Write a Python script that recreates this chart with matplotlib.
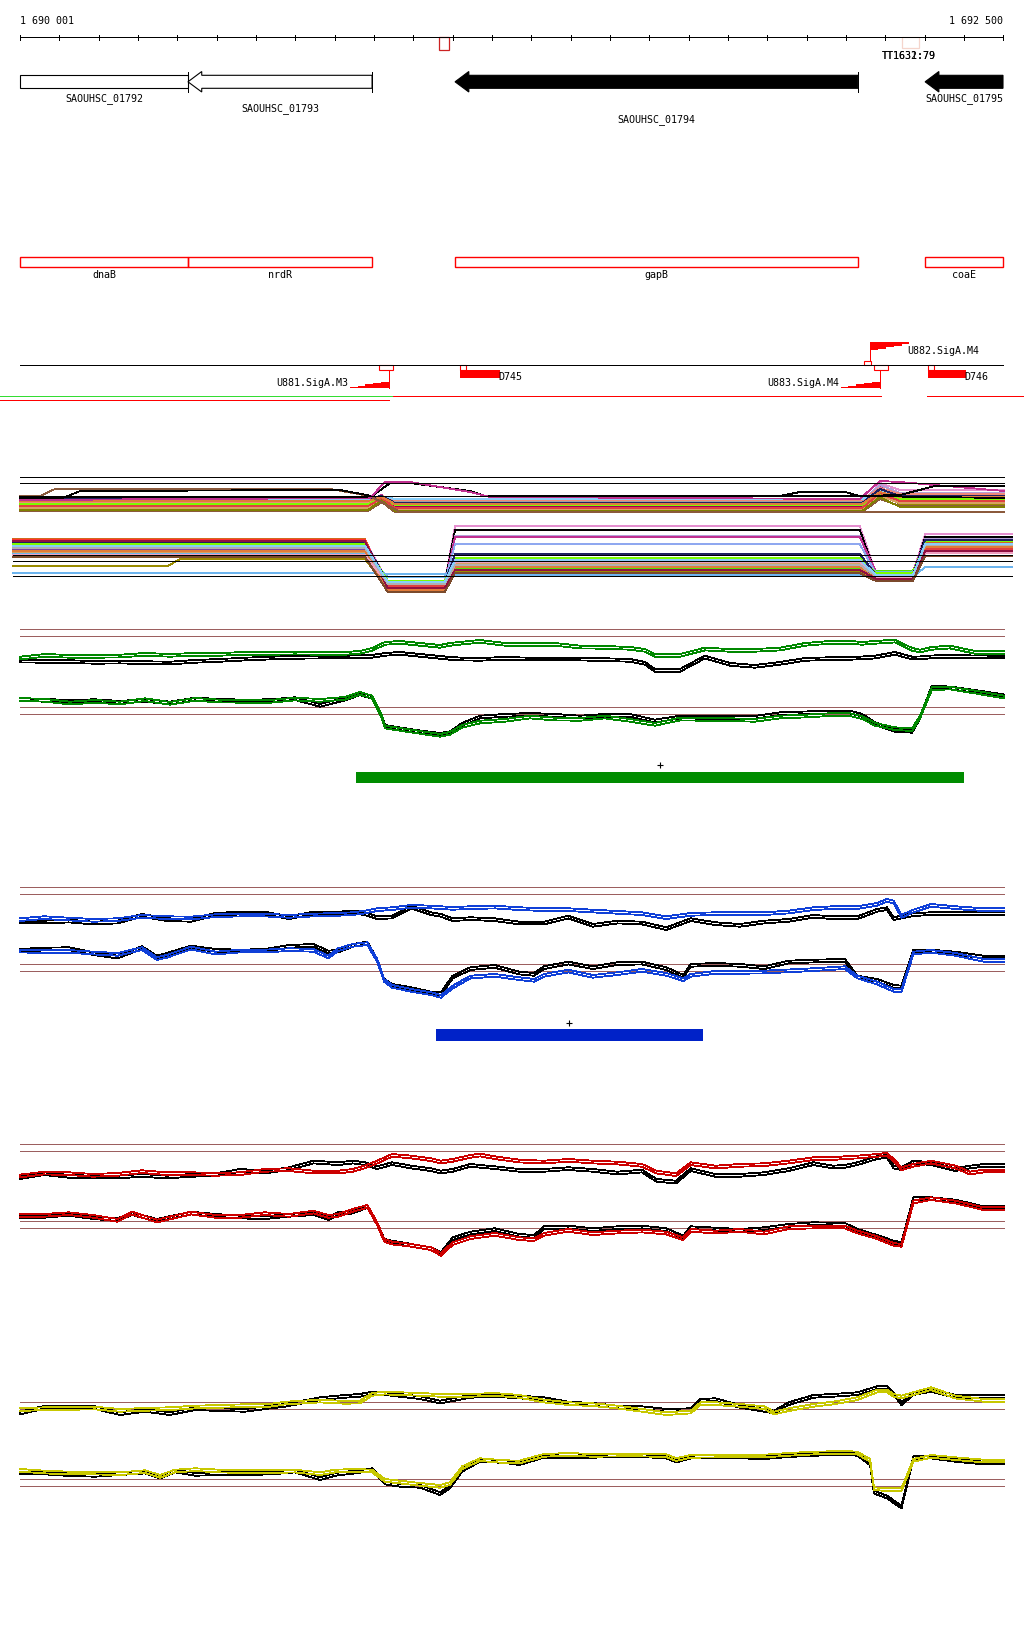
import numpy as np
import matplotlib.pyplot as plt
from matplotlib.patches import Polygon, Rectangle

plt.rcParams['lines.antialiased'] = False

W, H = 1024, 1640
VIEW_START, VIEW_END = 1690001, 1692500
BP_PER_PX = (VIEW_END - VIEW_START) / 983
XLIM = (VIEW_START - 20 * BP_PER_PX, VIEW_START + 1004 * BP_PER_PX)

RED = '#ff0000'
BROWN = '#9c5f5f'
LW = 0.6
REP_SHIFT = 2.7
font = dict(family='DejaVu Sans Mono', fontsize=7.2)

# === genes
gene_names = ['SAOUHSC_01792', 'SAOUHSC_01793', 'SAOUHSC_01794', 'SAOUHSC_01795']
gene_start = [1689700, 1690428, 1691107, 1692302]
gene_end = [1690428, 1690896, 1692131, 1692800]
gene_fill = ['white', 'white', 'black', 'black']
gene_label_row = [0, 1, 2, 0]
common_names = ['dnaB', 'nrdR', 'gapB', 'coaE']

# marks on the ruler
ruler_mark_start = [1691066, 1692243]
ruler_mark_end = [1691092, 1692286]
ruler_mark_color = ['#cc2222', '#f5d5cc']
tt_labels = ['TT1631:79', 'TT1632:79']
tt_label_pos = 1692192

# promoters
prom_names = ['U881.SigA.M3', 'U882.SigA.M4', 'U883.SigA.M4']
prom_pos = [1690939, 1692162, 1692187]
prom_strand = ['-', '+', '-']
prom_box = [(1690914, 1690949), (1692146, 1692164), (1692172, 1692208)]
FLAG = 100

# terminators
term_names = ['D745', 'D746']
term_start = [1691120, 1692309]
term_end = [1691221, 1692406]

# transcription units
tu_green = [(XLIM[0], 1690949)]
tu_red_low = [(XLIM[0], 1690939)]
tu_red = [(1690949, 1692190), (1692307, XLIM[1])]

# === multi-condition track
up_knots = [1690001, 1690886, 1690921, 1690954, 1692142, 1692187, 1692238, 1692503]
up_colors = ['#d2691e', '#9a8b00', '#6cb4ee', '#c03090', '#e58fcf', '#b4a0d8', '#55e000',
             '#ff3030', '#f08020', '#a00050', '#a0a0a0', '#d8a060', '#f08878', '#87cefa',
             '#8b5a3c', '#808000', '#202060', '#7cfc00', '#e04040', '#e07b39']
up_levels = [(60, 58, 63, 52, 56), (70, 59, 69, 55, 65), (59, 57, 60, 50, 57), (63, 56, 66, 48, 59),
             (65, 57, 65, 44, 51), (62, 58, 62, 46, 54), (66, 59, 64, 54, 61), (64, 57, 68, 53, 63),
             (68, 60, 70, 56, 60), (61, 58, 67, 51, 58), (67, 58, 63, 53, 62), (69, 60, 71, 57, 64),
             (63, 57, 61, 49, 55), (60, 58, 60, 52, 59), (72, 63, 73, 60, 67), (71, 61, 72, 58, 68),
             (59, 57, 64, 50, 57), (65, 58, 66, 55, 60), (67, 59, 69, 54, 62), (62, 58, 65, 53, 58)]
extra_x = [[1690001, 1690052, 1690090, 1690789, 1690891, 1690929, 1690967, 1692503],
           [1690001, 1690103, 1690154, 1690814, 1690896, 1690942, 1690992, 1691145, 1691183,
            1691933, 1691984, 1692098, 1692136, 1692503],
           [1690001, 1690891, 1690929, 1690992, 1691145, 1691196, 1692136, 1692187, 1692238, 1692503],
           [1690001, 1692136, 1692238, 1692327, 1692503]]
extra_y = [[57, 57, 50, 50, 57, 65, 73, 73],
           [60, 60, 52, 51, 57, 44, 44, 52, 57, 57, 53, 53, 57, 59],
           [61, 59, 43, 43, 53, 58, 60, 42, 43, 52],
           [58, 57, 56, 47, 47]]
extra_colors = ['#8b5a3c', 'black', '#c03090', 'black']

lo_knots = [1689983, 1690377, 1690408, 1690878, 1690936, 1691081, 1691107, 1692136,
            1692177, 1692271, 1692302, 1692523]
lo_colors = ['#e58fcf', 'black', '#b4a0d8', '#c03090', '#8fa8f0', '#d2691e', '#ff3030',
             '#9a8b00', '#55e000', '#6cb4ee', '#f08020', '#a00050', '#a0a0a0', '#d8a060',
             '#f08878', '#8040a0', '#8b5a3c', '#9a8b00', '#6cb4ee', '#7cfc00', '#e04040',
             '#e07b39', '#202060', '#f0a0c0', '#901040', '#7b4a2c', '#b0b0b0', '#87cefa']
lo_levels = [(102, 102, 142, 87, 134, 95), (103, 103, 144, 91, 136, 98), (105, 105, 146, 97, 138, 100),
             (104, 104, 145, 98, 133, 101), (108, 108, 143, 105, 135, 103), (100, 100, 150, 125, 137, 104),
             (101, 101, 148, 127, 140, 106), (107, 107, 147, 130, 139, 108), (112, 112, 144, 129, 132, 109),
             (115, 115, 138, 120, 133, 108), (109, 109, 149, 132, 141, 107), (106, 106, 146, 124, 138, 108),
             (110, 110, 145, 122, 136, 110), (113, 113, 146, 124, 137, 111), (104, 104, 143, 128, 135, 105),
             (111, 111, 148, 126, 139, 112), (117, 117, 152, 131, 140, 113), (127, 120, 150, 133, 136, 109),
             (134, 134, 135, 136, 138, 128), (105, 105, 142, 119, 134, 102), (108, 108, 147, 121, 139, 110),
             (112, 112, 151, 128, 142, 108), (103, 103, 144, 115, 136, 101), (116, 116, 145, 123, 138, 114),
             (102, 102, 149, 131, 140, 112), (118, 118, 153, 134, 142, 117), (109, 109, 145, 126, 137, 106),
             (107, 107, 143, 121, 136, 105)]

# === green track
g_up_x = [1690001, 1690065, 1690128, 1690192, 1690255, 1690319, 1690382, 1690446, 1690509, 1690573,
          1690637, 1690700, 1690764, 1690827, 1690865, 1690896, 1690929, 1690967, 1691018, 1691069,
          1691094, 1691125, 1691170, 1691234, 1691297, 1691361, 1691425, 1691488, 1691552, 1691590,
          1691615, 1691679, 1691742, 1691806, 1691869, 1691933, 1691997, 1692060, 1692111, 1692142,
          1692175, 1692225, 1692269, 1692289, 1692319, 1692365, 1692429, 1692503]
g_up_col = [37.7, 35, 36, 36, 35.7, 34, 35, 34, 34, 33, 33, 32.7, 33, 33, 32, 29, 23, 22, 24, 26,
            24, 22.7, 21, 24, 24, 24, 26.7, 27, 28, 30, 35, 35, 28.7, 30, 30, 28.7, 24, 22, 22, 23,
            22, 20.7, 29, 30.7, 28, 26.7, 32, 32]
g_up_blk = [40.7, 41, 41.3, 42, 41.7, 42.3, 42.7, 41, 40, 38.7, 37.7, 37, 36.7, 36.7, 36.3, 36, 34, 33,
            35, 37, 38, 38.7, 39, 38, 38.7, 38.7, 38.7, 39.3, 40, 43, 50, 50, 36.7, 44, 46, 43, 39,
            38.3, 38, 37.5, 36.7, 33, 37.7, 37.5, 36.5, 36, 36.5, 36.7]
g_lo_x = [1690001, 1690065, 1690128, 1690192, 1690255, 1690319, 1690382, 1690446, 1690509, 1690573,
          1690637, 1690700, 1690764, 1690827, 1690865, 1690896, 1690921, 1690929, 1690967, 1691018,
          1691069, 1691094, 1691125, 1691170, 1691234, 1691297, 1691361, 1691425, 1691488, 1691552,
          1691615, 1691679, 1691742, 1691806, 1691869, 1691933, 1691997, 1692060, 1692111, 1692142,
          1692175, 1692225, 1692269, 1692289, 1692319, 1692365, 1692429, 1692503]
g_lo_col = [79, 80, 82.7, 81, 82.7, 79.3, 83, 79, 80.7, 81, 81, 78.7, 80, 78, 73, 76.7, 96.7, 106.7,
            109, 112, 115, 113, 106, 101.7, 100, 96.7, 98.7, 99, 96.7, 100, 104, 98.7, 99, 99.3, 100,
            96.7, 95.7, 94.3, 94.3, 97.3, 104, 108.3, 109.3, 96.7, 68.3, 67.7, 71.7, 76.7]
g_lo_blk = [79.3, 80, 81, 80.3, 82, 80, 82.7, 78.7, 80, 80.7, 80.3, 78.3, 85, 78.7, 73.5, 77, 96, 106,
            108.5, 111.5, 114, 112.5, 104, 96.7, 95, 94, 95, 96.7, 95, 95, 100.7, 96.7, 97, 97.3, 97,
            93.3, 92.5, 91.7, 91.7, 95, 103.3, 110, 111, 97, 67, 67.5, 71, 75.5]
g_thresholds = [10, 17, 88, 95]
g_segment = (1690855, 1692401)

# === blue track
b_up_x = [1690000, 1690062, 1690125, 1690187, 1690249, 1690311, 1690374, 1690436, 1690498, 1690561,
          1690623, 1690685, 1690747, 1690810, 1690847, 1690877, 1690909, 1690947, 1690996, 1691046,
          1691071, 1691101, 1691146, 1691208, 1691270, 1691333, 1691395, 1691457, 1691520, 1691582,
          1691644, 1691706, 1691769, 1691831, 1691893, 1691955, 1692018, 1692068, 1692098, 1692130,
          1692180, 1692205, 1692222, 1692242, 1692272, 1692317, 1692379, 1692451, 1692503]
b_up_col = [39.3, 37.3, 38.7, 40, 39.3, 36, 37.3, 37.7, 35.3, 34.7, 34.7, 36, 34.7, 34, 33.3, 31.7,
            29.3, 28.3, 26, 26.7, 27.3, 28, 27.3, 26.7, 28.3, 29.3, 29.3, 30.7, 32, 33.3, 37.3, 34,
            33.3, 33.3, 33.3, 31.7, 28.3, 27.3, 27.3, 27.3, 24, 20, 21.7, 36, 30.7, 25, 27.3, 29.3, 29.3]
b_up_blk = [41.7, 41.7, 40.7, 42.7, 41.7, 35, 39.3, 40, 34, 32.7, 32.7, 37.3, 32.7, 32.7, 31.7, 33.3,
            37.3, 36.7, 26.7, 33.3, 35, 39.3, 38.3, 39.3, 42.7, 42.7, 36.7, 45, 41.7, 42.7, 48.3, 39.3,
            43.3, 45, 41.7, 40, 36, 37.3, 37.3, 37.3, 30, 28.3, 38.3, 36.7, 34.3, 33.3, 33.3, 33.3, 33.3]
b_lo_x = [1690000, 1690062, 1690125, 1690187, 1690249, 1690311, 1690349, 1690374, 1690436, 1690498,
          1690561, 1690623, 1690685, 1690747, 1690785, 1690810, 1690847, 1690884, 1690909, 1690927,
          1690947, 1690996, 1691046, 1691071, 1691101, 1691146, 1691208, 1691270, 1691308, 1691333,
          1691395, 1691457, 1691520, 1691582, 1691644, 1691687, 1691706, 1691769, 1691831, 1691893,
          1691955, 1692018, 1692098, 1692130, 1692180, 1692222, 1692242, 1692272, 1692317, 1692379,
          1692451, 1692503]
b_lo_col = [70.7, 71.3, 71, 72.7, 74, 68.3, 78.3, 76, 67.7, 72.7, 70.7, 70.7, 69.3, 70, 76.7, 69.3, 65,
            63.3, 80, 100, 106, 110, 113.3, 116, 106.7, 96.7, 95, 98.3, 100, 95, 90.7, 96, 93.3, 90, 94,
            99.3, 95, 92, 92, 91.7, 90.5, 89.3, 87.3, 96.7, 102.7, 110, 110, 72.7, 71, 74, 80, 80]
b_lo_blk = [70, 68.7, 68.3, 73.3, 76.7, 67.3, 76.7, 74, 66.7, 70, 70.7, 70, 66, 65, 71.7, 70.7, 65,
            62.7, 80, 100, 105, 108.3, 112.7, 113.3, 96.7, 88.3, 86, 92.7, 94, 87.3, 82.7, 87.3, 83.3,
            82.7, 88.3, 96, 85, 84, 85, 87.3, 81.7, 80.7, 80, 96.7, 100, 106, 106.7, 70.7, 70.7, 72.7,
            76.7, 76.7]
b_thresholds = [8, 15.3, 85.3, 92.3]
b_segment = (1691058, 1691737)

# === red track
r_up_x = [1690000, 1690062, 1690125, 1690187, 1690249, 1690311, 1690374, 1690436, 1690498, 1690561,
          1690623, 1690685, 1690747, 1690810, 1690847, 1690877, 1690909, 1690947, 1690996, 1691046,
          1691071, 1691101, 1691146, 1691171, 1691208, 1691270, 1691333, 1691395, 1691457, 1691520,
          1691582, 1691619, 1691669, 1691706, 1691769, 1691831, 1691893, 1691955, 1692018, 1692068,
          1692098, 1692130, 1692180, 1692205, 1692222, 1692242, 1692272, 1692317, 1692379, 1692416,
          1692451, 1692503]
r_up_col = [45.7, 42.7, 43.3, 45, 44, 41.3, 43.3, 43.3, 44, 43.3, 40, 39.3, 41.7, 41.7, 40, 36.7, 31.7,
            25, 26.7, 29.3, 31.7, 30, 26, 24.7, 27.3, 30.7, 31.7, 30, 31.7, 32.7, 35, 41.7, 44.3, 33.3,
            36.7, 35, 34.3, 31.7, 28.3, 28.3, 27.3, 26.7, 25, 24, 30, 38.3, 35, 31.7, 36.7, 42.7, 40.7, 40.7]
r_up_blk = [47.3, 43.3, 46, 46.7, 46.7, 45, 46.7, 45, 44.3, 40, 41.7, 38.3, 31.7, 33.3, 31.7, 33.3,
            37.3, 33.3, 36.7, 39.3, 41.7, 40, 35, 36, 37.3, 40, 40, 38.3, 40, 42.7, 40.7, 50, 51.7, 39.3,
            45, 45, 43.3, 39.3, 33.3, 36.7, 36, 33.3, 27.3, 26, 36.7, 38.3, 31.7, 33.3, 39.3, 36.7, 35, 35]
r_lo_x = [1690000, 1690062, 1690125, 1690187, 1690249, 1690286, 1690349, 1690436, 1690498, 1690561,
          1690623, 1690685, 1690747, 1690785, 1690810, 1690847, 1690884, 1690909, 1690927, 1690947,
          1690996, 1691046, 1691071, 1691101, 1691146, 1691208, 1691270, 1691308, 1691333, 1691395,
          1691457, 1691520, 1691582, 1691644, 1691687, 1691706, 1691769, 1691831, 1691893, 1691955,
          1692018, 1692098, 1692130, 1692180, 1692222, 1692242, 1692272, 1692317, 1692379, 1692451,
          1692503]
r_lo_col = [85, 85, 83.3, 86, 90, 82.7, 90.7, 82.7, 86, 86, 83.3, 85, 81.7, 86, 85, 80, 76, 93.3, 110,
            112.7, 115, 118.3, 124, 113.3, 107.3, 104, 108.3, 109.3, 104, 100, 103.3, 101.7, 100.7,
            102.7, 108.3, 100, 101.7, 100, 102.7, 97.3, 96.7, 96.7, 101.7, 107.3, 114, 115, 71.7, 68.3,
            71.7, 78.3, 78.3]
r_lo_blk = [86, 86, 84, 87.3, 89.3, 83.3, 90, 82.7, 85, 86.7, 87.3, 85, 83.3, 88.3, 83.3, 81.7, 76,
            93.3, 110, 111.7, 115, 118.3, 123.3, 108.3, 102.7, 99.3, 105, 106, 97.3, 96.7, 99.3, 97.3,
            96.7, 99.3, 106.7, 97.3, 98.7, 100, 98.3, 95, 93.3, 94, 100, 106, 111.7, 113.3, 68.3, 68.3,
            70.7, 77.3, 77.3]
r_thresholds = [15.3, 22.3, 92.3, 99.3]

# === yellow track
y_up_x = [1690001, 1690065, 1690128, 1690192, 1690255, 1690319, 1690382, 1690446, 1690509, 1690573,
          1690637, 1690675, 1690764, 1690827, 1690865, 1690896, 1690929, 1690967, 1691018, 1691069,
          1691146, 1691208, 1691270, 1691333, 1691395, 1691457, 1691520, 1691582, 1691644, 1691706,
          1691731, 1691769, 1691831, 1691893, 1691918, 1691955, 1692018, 1692068, 1692130, 1692180,
          1692205, 1692222, 1692242, 1692272, 1692317, 1692379, 1692451, 1692503]
y_up_col = [29.3, 28.3, 28, 27.7, 30, 29, 28.3, 26.7, 26, 25.3, 25, 22.7, 20.7, 22, 21.7, 14, 12.7,
            13.3, 14, 15, 15, 14, 16, 20.7, 23.3, 24.3, 26.7, 30, 33.3, 31.7, 23.3, 23.3, 25, 27.3,
            32.7, 29.3, 25, 22.7, 18.3, 10.7, 10.7, 15, 16.7, 13.3, 8.3, 16.7, 20, 20]
y_up_blk = [32.7, 26.7, 26.7, 27.3, 33.3, 30, 33.3, 28.3, 29.3, 30, 26.7, 25, 18.3, 16, 15, 12.7, 13.3,
            15, 17.3, 21.7, 16, 15, 16.7, 18.3, 22.7, 24, 26.7, 27.3, 30, 29.3, 20, 19.3, 26, 30, 31.7,
            23.3, 16, 15, 13.3, 7.3, 7.3, 13.3, 23.3, 13.3, 10, 16, 16, 16]
y_lo_x = [1690001, 1690065, 1690128, 1690192, 1690255, 1690319, 1690357, 1690395, 1690446, 1690509,
          1690573, 1690637, 1690700, 1690764, 1690802, 1690853, 1690896, 1690929, 1690967, 1691018,
          1691069, 1691094, 1691125, 1691170, 1691234, 1691270, 1691333, 1691395, 1691457, 1691520,
          1691582, 1691644, 1691669, 1691706, 1691769, 1691893, 1691955, 1692018, 1692098, 1692130,
          1692162, 1692172, 1692205, 1692242, 1692272, 1692317, 1692379, 1692451, 1692503]
y_lo_col = [90, 91.7, 92.7, 92.7, 93.3, 91.3, 96, 90.7, 89.3, 90.7, 91.3, 91.3, 90.7, 93.3, 90.7, 90,
            90.7, 100, 101.7, 104, 106, 103.3, 87.3, 79.3, 81.3, 81.7, 75, 74, 75, 74.7, 74.7, 75.3,
            79.3, 76, 75.7, 75.7, 74, 72.7, 72, 72.7, 80, 108.3, 109.3, 109.3, 80, 76, 78.3, 80.7, 80.7]
y_lo_blk = [92.7, 92.7, 94.3, 95, 93.3, 91.7, 96.7, 90.7, 94, 93.3, 93.3, 92.7, 90.7, 98.3, 94, 91.7,
            89.3, 102.7, 105, 106, 113.3, 106.7, 90, 80, 81.3, 83.3, 76, 76.7, 76, 75.3, 75.3, 76.7,
            80.7, 76.7, 76, 77.3, 75.3, 74, 73.3, 74, 83.3, 111.7, 116.7, 126.7, 77.3, 76.7, 80, 82.7, 82.7]
y_thresholds = [23.3, 30.3, 100, 107.3]

# === Figura
fig = plt.figure(figsize=(W / 100, H / 100), dpi=100)


def band(top, bottom):
    ax = fig.add_axes([0, 1 - bottom / H, 1, (bottom - top) / H])
    ax.set_xlim(*XLIM)
    ax.set_ylim(bottom - top, 0)
    ax.axis('off')
    return ax


# --- anotação
ax = band(0, 410)
ax.plot([VIEW_START, VIEW_END], [38.3, 38.3], color='black', lw=LW)
ticks = list(range(VIEW_START, VIEW_END, 100)) + [VIEW_END]
ax.vlines(ticks, 35.8, 40.8, color='black', lw=LW)
ax.text(VIEW_START, 24, '1 690 001', ha='left', va='baseline', **font)
ax.text(VIEW_END, 24, '1 692 500', ha='right', va='baseline', **font)
for s, e, c in zip(ruler_mark_start, ruler_mark_end, ruler_mark_color):
    ax.add_patch(Rectangle((s, 38.3), e - s, 13 if c == '#cc2222' else 10.5, fc='none', ec=c, lw=0.9))
for lab in tt_labels:
    ax.text(tt_label_pos, 59, lab, ha='left', va='baseline', **font)

HEAD = 35
for name, s, e, fill, row, cname in zip(gene_names, gene_start, gene_end, gene_fill,
                                        gene_label_row, common_names):
    x0, x1 = max(s, VIEW_START), min(e, VIEW_END)
    if s >= VIEW_START:
        pts = [(x0, 82.8), (x0 + HEAD, 72.5), (x0 + HEAD, 76.3), (x1, 76.3), (x1, 89.3),
               (x0 + HEAD, 89.3), (x0 + HEAD, 93.0)]
    else:
        pts = [(x0, 76.3), (x1, 76.3), (x1, 89.3), (x0, 89.3)]
    ax.add_patch(Polygon(pts, closed=True, fc=fill, ec='black', lw=0.8))
    if e <= VIEW_END:
        ax.plot([x1, x1], [72.5, 93.0], color='black', lw=LW)
    ax.text((x0 + x1) / 2, 100.7 + 10.5 * row, name, ha='center', va='baseline', **font)
    ax.add_patch(Rectangle((x0, 258.3), x1 - x0, 10, fc='none', ec=RED, lw=1.0))
    ax.text((x0 + x1) / 2, 278.3, cname, ha='center', va='baseline', **font)

# promotores
ax.plot([VIEW_START, VIEW_END], [366.3, 366.3], color='black', lw=LW)
for name, pos, strand, (b0, b1) in zip(prom_names, prom_pos, prom_strand, prom_box):
    xs = np.linspace(0, FLAG, 6)
    if strand == '-':
        ax.add_patch(Rectangle((b0, 366.3), b1 - b0, 4.5, fc='none', ec=RED, lw=0.8))
        ax.plot([pos, pos], [370.8, 389.3], color=RED, lw=LW)
        pts = [(pos - FLAG, 389.3)]
        for i in range(5):
            h = (i + 1) / 5 * 6.5
            pts += [(pos - FLAG + xs[i], 389.3 - h), (pos - FLAG + xs[i + 1], 389.3 - h)]
        pts.append((pos, 389.3))
        ax.add_patch(Polygon(pts, closed=True, fc=RED, ec='none'))
        ax.text(pos - FLAG - 4, 386.5, name, ha='right', va='baseline', **font)
    else:
        ax.add_patch(Rectangle((b0, 362.0), b1 - b0, 4.3, fc='none', ec=RED, lw=0.8))
        ax.plot([pos, pos], [362.0, 343.3], color=RED, lw=LW)
        pts = [(pos, 343.3), (pos + FLAG, 343.3)]
        for i in reversed(range(5)):
            h = (5 - i) / 5 * 8
            pts += [(pos + xs[i + 1], 343.3 + h), (pos + xs[i], 343.3 + h)]
        ax.add_patch(Polygon(pts, closed=True, fc=RED, ec='none'))
        ax.text(pos + FLAG - 5, 353.5, name, ha='left', va='baseline', **font)

for name, s, e in zip(term_names, term_start, term_end):
    ax.add_patch(Rectangle((s, 366.3), 15, 4.5, fc='none', ec=RED, lw=0.8))
    ax.add_patch(Rectangle((s, 371.0), e - s, 8, fc=RED, ec='none'))
    ax.text(e - 5, 380, name, ha='left', va='baseline', **font)

for a, b in tu_green:
    ax.plot([a, b], [397.3, 397.3], color='#33dd33', lw=LW)
for a, b in tu_red_low:
    ax.plot([a, b], [401.3, 401.3], color=RED, lw=LW)
for a, b in tu_red:
    ax.plot([a, b], [397.3, 397.3], color=RED, lw=LW)

# --- todas as condições
ax = band(440, 600)
for c, (A, P, B, Q, C) in zip(up_colors, up_levels):
    ax.plot(up_knots, [A, A, P, B, B, Q, C, C], color=c, lw=LW)
for c, (L1, L2, D1, M, D2, R) in zip(lo_colors, lo_levels):
    ax.plot(lo_knots, [L1, L1, L2, L2, D1, D1, M, M, D2, D2, R, R], color=c, lw=LW)
for xx, yy, c in zip(extra_x, extra_y, extra_colors):
    ax.plot(xx, yy, color=c, lw=LW)
ax.hlines([38, 44], VIEW_START, 1692503, color='black', lw=LW)
ax.hlines([116, 122, 137], 1689983, 1692523, color='black', lw=LW)


def profile_track(top, bottom, thresholds, series, color):
    ax = band(top, bottom)
    ax.hlines(thresholds, VIEW_START, 1692503, color=BROWN, lw=LW)
    for x, yc, yb in series:
        for sh in (0, REP_SHIFT):
            ax.plot(x, np.array(yb) + sh, color='black', lw=LW)
        for sh in (0, REP_SHIFT):
            ax.plot(x, np.array(yc) + sh, color=color, lw=LW)
    return ax


ax = profile_track(620, 800, g_thresholds,
                   [(g_up_x, g_up_col, g_up_blk), (g_lo_x, g_lo_col, g_lo_blk)], '#008800')
ax.add_patch(Rectangle((g_segment[0], 153), g_segment[1] - g_segment[0], 11, fc='#008c00', ec='none'))
ax.plot([(g_segment[0] + g_segment[1]) / 2], [146], marker='+', color='black', ms=4, mew=0.8)

ax = profile_track(880, 1060, b_thresholds,
                   [(b_up_x, b_up_col, b_up_blk), (b_lo_x, b_lo_col, b_lo_blk)], '#1040d8')
ax.add_patch(Rectangle((b_segment[0], 150), b_segment[1] - b_segment[0], 12, fc='#0022c8', ec='none'))
ax.plot([(b_segment[0] + b_segment[1]) / 2], [144], marker='+', color='black', ms=4, mew=0.8)

profile_track(1130, 1270, r_thresholds,
              [(r_up_x, r_up_col, r_up_blk), (r_lo_x, r_lo_col, r_lo_blk)], '#cc0000')

profile_track(1380, 1520, y_thresholds,
              [(y_up_x, y_up_col, y_up_blk), (y_lo_x, y_lo_col, y_lo_blk)], '#c8c800')

fig.savefig('out.png', dpi=100)
